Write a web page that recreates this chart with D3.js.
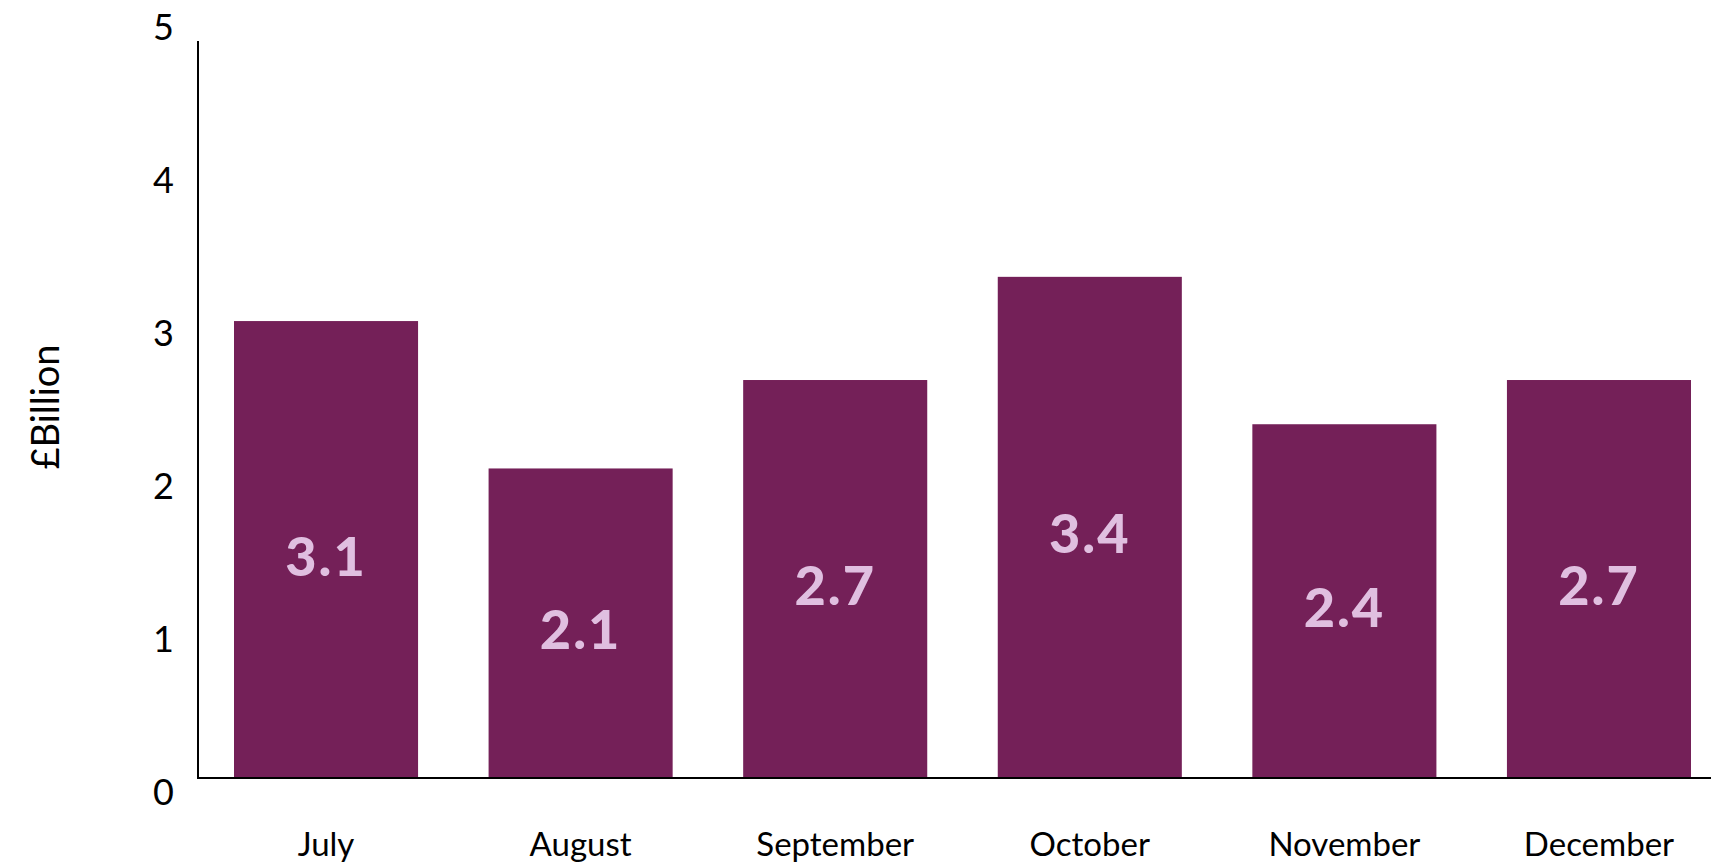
<!DOCTYPE html>
<html>
<head>
<meta charset="utf-8">
<script src="https://cdn.jsdelivr.net/npm/d3@7"></script>
<style>
  body { margin: 0; background: #fff; }
  svg text { font-family: Lato, "Open Sans", sans-serif; }
</style>
</head>
<body>
<div id="chart"></div>
<script>
// data
var months = ["July", "August", "September", "October", "November", "December"];
var values = [3.1, 2.1, 2.7, 3.4, 2.4, 2.7];
var yTicks = [0, 1, 2, 3, 4, 5];

var width = 1711, height = 867;
var margin = {top: 41, left: 198, bottom: 89};
var barColor = "#742058", labelColor = "#e0bfe0";

var svg = d3.select("#chart").append("svg")
    .attr("width", width)
    .attr("height", height);

var x = d3.scaleBand()
    .domain(months)
    .range([margin.left, 1727])
    .paddingInner(0.277)
    .paddingOuter(0.1414);

var y = d3.scaleLinear()
    .domain([0, 5])
    .range([height - margin.bottom, margin.top]);

// tick labels sit on a slightly wider spacing than the axis itself
var yLab = d3.scaleLinear()
    .domain([0, 5])
    .range([792, 27]);

// bars
svg.selectAll(".bar")
    .data(values)
    .enter().append("rect")
    .attr("class", "bar")
    .attr("x", function(d, i){ return x(months[i]); })
    .attr("width", x.bandwidth())
    .attr("y", function(d){ return y(d); })
    .attr("height", function(d){ return y(0) - y(d); })
    .attr("fill", barColor);

// value labels in the middle of each bar
svg.selectAll(".val")
    .data(values)
    .enter().append("text")
    .attr("class", "val")
    .attr("x", function(d, i){ return x(months[i]) + x.bandwidth()/2; })
    .attr("y", function(d){ return (y(d) + y(0))/2 + 26; })
    .attr("text-anchor", "middle")
    .attr("font-size", 54)
    .attr("font-weight", 900)
    .attr("letter-spacing", 2)
    .attr("fill", labelColor)
    .text(function(d){ return d3.format(".1f")(d); });

// y axis labels
var yAxis = svg.append("g")
    .attr("transform", "translate(174,0)")
    .call(d3.axisLeft(yLab).tickValues(yTicks).tickFormat(d3.format("d")).tickSize(0).tickPadding(0));
yAxis.select(".domain").remove();
yAxis.selectAll("text")
    .attr("font-size", 36)
    .attr("fill", "#000")
    .attr("dy", "0.36em");

// axis lines
svg.append("line")
    .attr("x1", margin.left).attr("x2", margin.left)
    .attr("y1", y(5)).attr("y2", y(0))
    .attr("stroke", "#000").attr("stroke-width", 2);
svg.append("line")
    .attr("x1", margin.left - 1).attr("x2", width)
    .attr("y1", y(0)).attr("y2", y(0))
    .attr("stroke", "#000").attr("stroke-width", 2);

// month labels
var xAxis = svg.append("g")
    .attr("transform", "translate(0," + y(0) + ")")
    .call(d3.axisBottom(x).tickSize(0));
xAxis.select(".domain").remove();
xAxis.selectAll("text")
    .attr("font-size", 33)
    .attr("fill", "#000")
    .attr("y", 78)
    .attr("dy", 0);

// y title
svg.append("text")
    .attr("transform", "translate(59,407) rotate(-90)")
    .attr("text-anchor", "middle")
    .attr("font-size", 38)
    .attr("fill", "#000")
    .text("£Billion");
</script>
</body>
</html>
